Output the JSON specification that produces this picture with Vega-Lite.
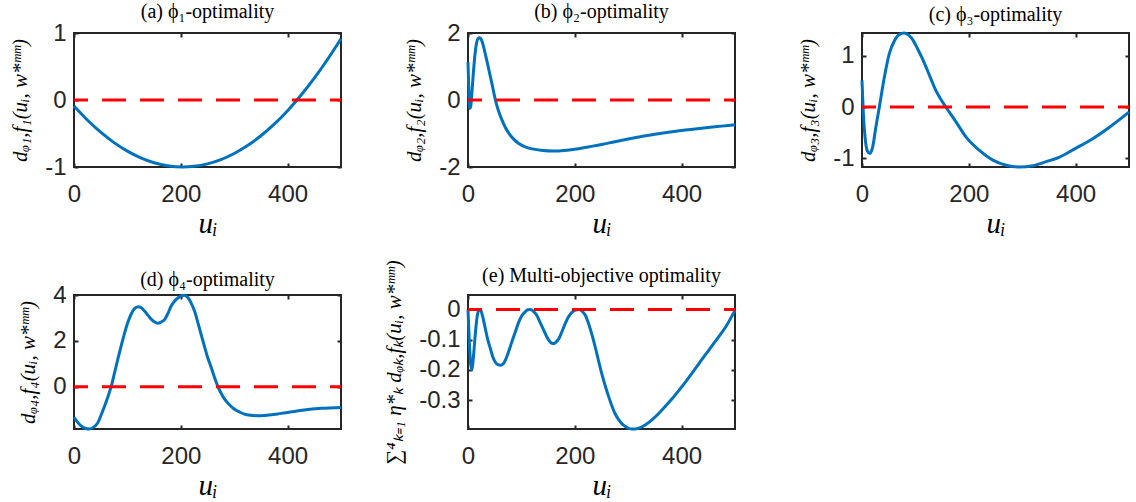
{
  "$schema": "https://vega.github.io/schema/vega-lite/v6.json",
  "padding": {"left": 8, "top": 0, "right": 0, "bottom": 0},
  "autosize": {"type": "pad"},
  "background": "white",
  "datasets": {
    "a": [
      {"u": 0, "v": -0.089}, {"u": 25, "v": -0.298}, {"u": 50, "v": -0.481}, {"u": 75, "v": -0.636},
      {"u": 100, "v": -0.763}, {"u": 125, "v": -0.863}, {"u": 150, "v": -0.936}, {"u": 175, "v": -0.982},
      {"u": 204, "v": -1.0}, {"u": 225, "v": -0.99}, {"u": 250, "v": -0.954}, {"u": 275, "v": -0.89},
      {"u": 300, "v": -0.798}, {"u": 325, "v": -0.679}, {"u": 350, "v": -0.533}, {"u": 375, "v": -0.36},
      {"u": 400, "v": -0.159}, {"u": 425, "v": 0.07}, {"u": 450, "v": 0.325}, {"u": 475, "v": 0.608},
      {"u": 500, "v": 0.915}
    ],
    "b": [
      {"u": 0, "v": 1.13}, {"u": 1, "v": 0.6}, {"u": 2, "v": 0.1}, {"u": 3.5, "v": -0.25}, {"u": 5, "v": -0.2},
      {"u": 7, "v": 0.15}, {"u": 10, "v": 0.8}, {"u": 13, "v": 1.35}, {"u": 16, "v": 1.7}, {"u": 19, "v": 1.84},
      {"u": 22, "v": 1.86}, {"u": 25, "v": 1.8}, {"u": 29, "v": 1.6}, {"u": 33, "v": 1.33}, {"u": 38, "v": 0.98},
      {"u": 42, "v": 0.69}, {"u": 46, "v": 0.4}, {"u": 51, "v": 0.02}, {"u": 57, "v": -0.32}, {"u": 64, "v": -0.61},
      {"u": 70, "v": -0.82}, {"u": 76, "v": -0.98}, {"u": 85, "v": -1.16}, {"u": 95, "v": -1.3}, {"u": 107, "v": -1.4},
      {"u": 120, "v": -1.46}, {"u": 140, "v": -1.505}, {"u": 160, "v": -1.52}, {"u": 180, "v": -1.505},
      {"u": 200, "v": -1.47}, {"u": 225, "v": -1.4}, {"u": 250, "v": -1.33}, {"u": 275, "v": -1.245},
      {"u": 300, "v": -1.165}, {"u": 325, "v": -1.09}, {"u": 350, "v": -1.025}, {"u": 375, "v": -0.965},
      {"u": 400, "v": -0.91}, {"u": 425, "v": -0.865}, {"u": 450, "v": -0.82}, {"u": 475, "v": -0.78},
      {"u": 500, "v": -0.74}
    ],
    "c": [
      {"u": 0, "v": 0.52}, {"u": 2.5, "v": -0.13}, {"u": 6, "v": -0.62}, {"u": 10, "v": -0.86}, {"u": 15, "v": -0.91},
      {"u": 20, "v": -0.78}, {"u": 26, "v": -0.39}, {"u": 32.5, "v": 0}, {"u": 42, "v": 0.59}, {"u": 51, "v": 1.04},
      {"u": 61, "v": 1.3}, {"u": 70, "v": 1.42}, {"u": 79, "v": 1.446}, {"u": 88, "v": 1.4}, {"u": 96, "v": 1.3},
      {"u": 104, "v": 1.14}, {"u": 112, "v": 0.97}, {"u": 120, "v": 0.78}, {"u": 129, "v": 0.55}, {"u": 138, "v": 0.33},
      {"u": 147, "v": 0.16}, {"u": 157, "v": 0},
      {"u": 176, "v": -0.29}, {"u": 195, "v": -0.59}, {"u": 220, "v": -0.85}, {"u": 245, "v": -1.04},
      {"u": 270, "v": -1.14}, {"u": 295, "v": -1.174}, {"u": 320, "v": -1.15}, {"u": 345, "v": -1.07},
      {"u": 370, "v": -0.98}, {"u": 400, "v": -0.81}, {"u": 432, "v": -0.62}, {"u": 464, "v": -0.39},
      {"u": 500, "v": -0.1}
    ],
    "d": [
      {"u": 0, "v": -1.33}, {"u": 7, "v": -1.55}, {"u": 14, "v": -1.72}, {"u": 22, "v": -1.82}, {"u": 29, "v": -1.84},
      {"u": 37, "v": -1.76}, {"u": 45, "v": -1.55}, {"u": 51, "v": -1.22}, {"u": 57.5, "v": -0.83}, {"u": 64, "v": -0.4},
      {"u": 70, "v": 0.04}, {"u": 76, "v": 0.62}, {"u": 82, "v": 1.2}, {"u": 88, "v": 1.75}, {"u": 95, "v": 2.36},
      {"u": 101, "v": 2.82}, {"u": 107, "v": 3.16}, {"u": 113, "v": 3.4}, {"u": 120, "v": 3.49}, {"u": 126, "v": 3.44},
      {"u": 132, "v": 3.3}, {"u": 139, "v": 3.1}, {"u": 145, "v": 2.94}, {"u": 151, "v": 2.82}, {"u": 157, "v": 2.77},
      {"u": 163, "v": 2.82}, {"u": 170, "v": 2.94}, {"u": 176, "v": 3.2}, {"u": 182, "v": 3.52}, {"u": 189, "v": 3.75},
      {"u": 195, "v": 3.88}, {"u": 201, "v": 3.97}, {"u": 207, "v": 3.99}, {"u": 213, "v": 3.9}, {"u": 219, "v": 3.67},
      {"u": 226, "v": 3.28}, {"u": 232, "v": 2.8}, {"u": 238, "v": 2.28}, {"u": 244, "v": 1.78}, {"u": 250, "v": 1.3},
      {"u": 257, "v": 0.84}, {"u": 263, "v": 0.42}, {"u": 269, "v": 0.04}, {"u": 275, "v": -0.26}, {"u": 282, "v": -0.54},
      {"u": 291, "v": -0.78}, {"u": 300, "v": -0.97}, {"u": 310, "v": -1.1}, {"u": 319, "v": -1.19}, {"u": 330, "v": -1.24},
      {"u": 344, "v": -1.26}, {"u": 356, "v": -1.25}, {"u": 369, "v": -1.22}, {"u": 385, "v": -1.17}, {"u": 400, "v": -1.12},
      {"u": 431, "v": -1.01}, {"u": 463, "v": -0.94}, {"u": 500, "v": -0.9}
    ],
    "e": [
      {"u": 0, "v": 0}, {"u": 2.5, "v": -0.11}, {"u": 5, "v": -0.18}, {"u": 7.5, "v": -0.2}, {"u": 10, "v": -0.16},
      {"u": 14, "v": -0.075}, {"u": 17, "v": -0.025}, {"u": 20, "v": -0.003}, {"u": 23, "v": 0}, {"u": 27, "v": -0.02},
      {"u": 32.5, "v": -0.064}, {"u": 37, "v": -0.1}, {"u": 42, "v": -0.13}, {"u": 47, "v": -0.16}, {"u": 51, "v": -0.174},
      {"u": 56, "v": -0.183}, {"u": 61, "v": -0.185}, {"u": 66, "v": -0.18}, {"u": 70, "v": -0.168}, {"u": 76, "v": -0.14},
      {"u": 82, "v": -0.108}, {"u": 89, "v": -0.072}, {"u": 95, "v": -0.042}, {"u": 101, "v": -0.02}, {"u": 107.5, "v": -0.007},
      {"u": 112, "v": -0.001}, {"u": 117, "v": 0}, {"u": 123, "v": -0.007}, {"u": 129, "v": -0.02}, {"u": 135, "v": -0.043},
      {"u": 142, "v": -0.069}, {"u": 148, "v": -0.092}, {"u": 154, "v": -0.108}, {"u": 160, "v": -0.113}, {"u": 165, "v": -0.108},
      {"u": 170, "v": -0.097}, {"u": 176, "v": -0.073}, {"u": 182, "v": -0.047}, {"u": 188, "v": -0.025}, {"u": 195, "v": -0.009},
      {"u": 201, "v": -0.002}, {"u": 207.5, "v": 0}, {"u": 214, "v": -0.006}, {"u": 220, "v": -0.02}, {"u": 226, "v": -0.048},
      {"u": 232.5, "v": -0.086}, {"u": 239, "v": -0.13}, {"u": 245, "v": -0.174}, {"u": 251, "v": -0.216}, {"u": 257.5, "v": -0.256},
      {"u": 264, "v": -0.292}, {"u": 270, "v": -0.322}, {"u": 276, "v": -0.347}, {"u": 282.5, "v": -0.366}, {"u": 289, "v": -0.38},
      {"u": 295, "v": -0.388}, {"u": 301, "v": -0.394}, {"u": 307.5, "v": -0.396}, {"u": 313, "v": -0.396}, {"u": 320, "v": -0.393},
      {"u": 332.5, "v": -0.382}, {"u": 345, "v": -0.365}, {"u": 357.5, "v": -0.344}, {"u": 370, "v": -0.32}, {"u": 382.5, "v": -0.295},
      {"u": 395, "v": -0.268}, {"u": 407.5, "v": -0.24}, {"u": 420, "v": -0.21}, {"u": 432.5, "v": -0.179}, {"u": 445, "v": -0.149},
      {"u": 457.5, "v": -0.119}, {"u": 470, "v": -0.089}, {"u": 482.5, "v": -0.058}, {"u": 500, "v": -0.003}
    ],
    "zero": [{"u": 0, "v": 0}, {"u": 500, "v": 0}]
  },
  "columns": 3,
  "bounds": "flush",
  "spacing": {"row": 128, "column": 127},
  "config": {
    "view": {"stroke": "#262626", "strokeWidth": 2},
    "axis": {
      "grid": false, "domain": false, "labelFont": "Liberation Sans", "labelFontSize": 24, "labelColor": "#262626",
      "tickColor": "#262626", "tickWidth": 2, "tickSize": -4, "labelFlush": false, "labelOverlap": false, "labelBound": false,
      "titleFont": "Liberation Serif", "titleFontStyle": "italic", "titleFontWeight": "normal", "titleColor": "#000000"
    },
    "axisX": {"labelPadding": 19, "titleFontSize": 29, "titlePadding": 3, "titleFont": "Liberation Serif", "titleFontWeight": "normal", "titleFontStyle": "italic"},
    "axisY": {"labelPadding": 12, "titleFontSize": 21, "titlePadding": 14},
    "axisTop": {"minExtent": 0, "maxExtent": 0},
    "axisRight": {"minExtent": 0, "maxExtent": 0},
    "title": {"font": "Liberation Serif", "fontSize": 20, "fontWeight": "normal", "color": "#000000"},
    "line": {"clip": true}
  },
  "concat": [
    {
      "width": 267, "height": 134,
      "title": {"text": "(a) ϕ₁-optimality", "offset": -0.5},
      "resolve": {"axis": {"x": "independent", "y": "independent"}},
      "layer": [
        {
          "data": {"name": "a"},
          "mark": {"type": "line", "color": "#0072BD", "strokeWidth": 3, "interpolate": "monotone"},
          "encoding": {
            "x": {"field": "u", "type": "quantitative", "scale": {"domain": [0, 500], "nice": false, "zero": false},
                  "axis": {"orient": "bottom", "values": [0, 200, 400], "title": "uᵢ"}},
            "y": {"field": "v", "type": "quantitative", "scale": {"domain": [-1, 1], "nice": false, "zero": false},
                  "axis": {"orient": "left", "values": [-1, 0, 1], "format": "~g", "labelExpr": "replace(datum.label, '−', '-')", "title": "dᵩ₁,f₁(uᵢ, w*ᵐᵐ)"}}
          }
        },
        {
          "data": {"name": "zero"},
          "mark": {"type": "line", "color": "#FF0000", "strokeWidth": 3, "strokeDash": [24, 14], "strokeDashOffset": 10},
          "encoding": {
            "x": {"field": "u", "type": "quantitative", "scale": {"domain": [0, 500], "nice": false, "zero": false},
                  "axis": {"orient": "top", "values": [0, 200, 400], "labels": false, "title": null}},
            "y": {"field": "v", "type": "quantitative", "scale": {"domain": [-1, 1], "nice": false, "zero": false},
                  "axis": {"orient": "right", "values": [-1, 0, 1], "labels": false, "title": null}}
          }
        }
      ]
    },
    {
      "width": 267, "height": 134,
      "title": {"text": "(b) ϕ₂-optimality", "offset": -0.5},
      "resolve": {"axis": {"x": "independent", "y": "independent"}},
      "layer": [
        {
          "data": {"name": "b"},
          "mark": {"type": "line", "color": "#0072BD", "strokeWidth": 3, "interpolate": "monotone"},
          "encoding": {
            "x": {"field": "u", "type": "quantitative", "scale": {"domain": [0, 500], "nice": false, "zero": false},
                  "axis": {"orient": "bottom", "values": [0, 200, 400], "title": "uᵢ"}},
            "y": {"field": "v", "type": "quantitative", "scale": {"domain": [-2, 2], "nice": false, "zero": false},
                  "axis": {"orient": "left", "values": [-2, 0, 2], "format": "~g", "labelExpr": "replace(datum.label, '−', '-')", "title": "dᵩ₂,f₂(uᵢ, w*ᵐᵐ)"}}
          }
        },
        {
          "data": {"name": "zero"},
          "mark": {"type": "line", "color": "#FF0000", "strokeWidth": 3, "strokeDash": [24, 14], "strokeDashOffset": 10},
          "encoding": {
            "x": {"field": "u", "type": "quantitative", "scale": {"domain": [0, 500], "nice": false, "zero": false},
                  "axis": {"orient": "top", "values": [0, 200, 400], "labels": false, "title": null}},
            "y": {"field": "v", "type": "quantitative", "scale": {"domain": [-2, 2], "nice": false, "zero": false},
                  "axis": {"orient": "right", "values": [-2, 0, 2], "labels": false, "title": null}}
          }
        }
      ]
    },
    {
      "width": 267, "height": 134,
      "title": {"text": "(c) ϕ₃-optimality", "offset": 2.5},
      "resolve": {"axis": {"x": "independent", "y": "independent"}},
      "layer": [
        {
          "data": {"name": "c"},
          "mark": {"type": "line", "color": "#0072BD", "strokeWidth": 3, "interpolate": "monotone"},
          "encoding": {
            "x": {"field": "u", "type": "quantitative", "scale": {"domain": [0, 500], "nice": false, "zero": false},
                  "axis": {"orient": "bottom", "values": [0, 200, 400], "title": "uᵢ"}},
            "y": {"field": "v", "type": "quantitative", "scale": {"domain": [-1.174, 1.448], "nice": false, "zero": false},
                  "axis": {"orient": "left", "values": [-1, 0, 1], "format": "~g", "labelExpr": "replace(datum.label, '−', '-')", "title": "dᵩ₃,f₃(uᵢ, w*ᵐᵐ)"}}
          }
        },
        {
          "data": {"name": "zero"},
          "mark": {"type": "line", "color": "#FF0000", "strokeWidth": 3, "strokeDash": [24, 14], "strokeDashOffset": 10},
          "encoding": {
            "x": {"field": "u", "type": "quantitative", "scale": {"domain": [0, 500], "nice": false, "zero": false},
                  "axis": {"orient": "top", "values": [0, 200, 400], "labels": false, "title": null}},
            "y": {"field": "v", "type": "quantitative", "scale": {"domain": [-1.174, 1.448], "nice": false, "zero": false},
                  "axis": {"orient": "right", "values": [-1, 0, 1], "labels": false, "title": null}}
          }
        }
      ]
    },
    {
      "width": 267, "height": 134,
      "title": {"text": "(d) ϕ₄-optimality", "offset": -7},
      "resolve": {"axis": {"x": "independent", "y": "independent"}},
      "layer": [
        {
          "data": {"name": "d"},
          "mark": {"type": "line", "color": "#0072BD", "strokeWidth": 3, "interpolate": "monotone"},
          "encoding": {
            "x": {"field": "u", "type": "quantitative", "scale": {"domain": [0, 500], "nice": false, "zero": false},
                  "axis": {"orient": "bottom", "values": [0, 200, 400], "title": "uᵢ"}},
            "y": {"field": "v", "type": "quantitative", "scale": {"domain": [-1.84, 4], "nice": false, "zero": false},
                  "axis": {"orient": "left", "values": [0, 2, 4], "format": "~g", "labelExpr": "replace(datum.label, '−', '-')", "title": "dᵩ₄,f₄(uᵢ, w*ᵐᵐ)"}}
          }
        },
        {
          "data": {"name": "zero"},
          "mark": {"type": "line", "color": "#FF0000", "strokeWidth": 3, "strokeDash": [24, 14], "strokeDashOffset": 10},
          "encoding": {
            "x": {"field": "u", "type": "quantitative", "scale": {"domain": [0, 500], "nice": false, "zero": false},
                  "axis": {"orient": "top", "values": [0, 200, 400], "labels": false, "title": null}},
            "y": {"field": "v", "type": "quantitative", "scale": {"domain": [-1.84, 4], "nice": false, "zero": false},
                  "axis": {"orient": "right", "values": [0, 2, 4], "labels": false, "title": null}}
          }
        }
      ]
    },
    {
      "width": 267, "height": 134,
      "title": {"text": "(e) Multi-objective optimality", "offset": -26},
      "resolve": {"axis": {"x": "independent", "y": "independent"}},
      "layer": [
        {
          "data": {"name": "e"},
          "mark": {"type": "line", "color": "#0072BD", "strokeWidth": 3, "interpolate": "monotone"},
          "encoding": {
            "x": {"field": "u", "type": "quantitative", "scale": {"domain": [0, 500], "nice": false, "zero": false},
                  "axis": {"orient": "bottom", "values": [0, 200, 400], "title": "uᵢ"}},
            "y": {"field": "v", "type": "quantitative", "scale": {"domain": [-0.396, 0.048], "nice": false, "zero": false},
                  "axis": {"orient": "left", "values": [-0.3, -0.2, -0.1, 0], "format": "~g", "labelExpr": "replace(datum.label, '−', '-')", "title": "∑⁴ₖ₌₁ η*ₖ dᵩₖ,fₖ(uᵢ, w*ᵐᵐ)"}}
          }
        },
        {
          "data": {"name": "zero"},
          "mark": {"type": "line", "color": "#FF0000", "strokeWidth": 3, "strokeDash": [24, 14], "strokeDashOffset": 10},
          "encoding": {
            "x": {"field": "u", "type": "quantitative", "scale": {"domain": [0, 500], "nice": false, "zero": false},
                  "axis": {"orient": "top", "values": [0, 200, 400], "labels": false, "title": null}},
            "y": {"field": "v", "type": "quantitative", "scale": {"domain": [-0.396, 0.048], "nice": false, "zero": false},
                  "axis": {"orient": "right", "values": [-0.3, -0.2, -0.1, 0], "labels": false, "title": null}}
          }
        }
      ]
    }
  ]
}
